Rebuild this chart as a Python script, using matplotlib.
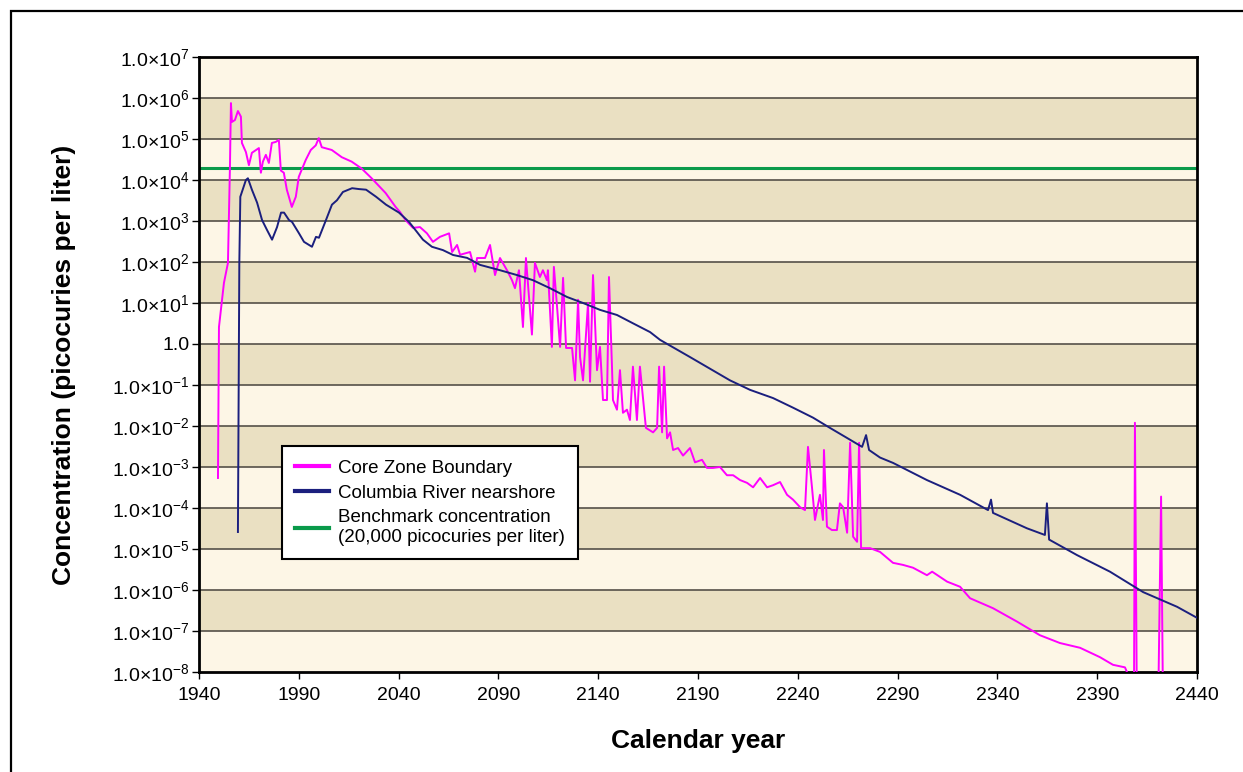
import matplotlib

matplotlib.use("Agg")
import matplotlib.pyplot as plt
import matplotlib.patches as mpatches

plt.rcParams["font.family"] = ["Liberation Sans", "DejaVu Sans"]
plt.rcParams["mathtext.fontset"] = "custom"
plt.rcParams["mathtext.rm"] = "Liberation Sans"
plt.rcParams["mathtext.it"] = "Liberation Sans:italic"
plt.rcParams["mathtext.bf"] = "Liberation Sans:bold"

# Core Zone Boundary (picocuries per liter)
core_years = [
    1949.5, 1950.0, 1952.5, 1954.5, 1955.5, 1956.0, 1956.5, 1958.0, 1959.5, 1961.0,
    1961.5, 1963.5, 1965.0, 1966.5, 1970.0, 1971.0, 1972.0, 1973.5, 1975.0, 1976.5,
    1978.5, 1980.0, 1981.0, 1982.5, 1984.0, 1985.0, 1986.5, 1988.5, 1990.0, 1993.5,
    1996.0, 1998.5, 2000.0, 2001.5, 2006.5, 2011.5, 2016.5, 2021.5, 2026.5, 2033.5,
    2038.5, 2040.7, 2043.5, 2047.2, 2050.7, 2054.2, 2057.2, 2060.7, 2065.3, 2066.8,
    2069.3, 2070.8, 2075.8, 2078.3, 2079.3, 2083.3, 2085.8, 2088.3, 2090.8, 2094.3,
    2096.8, 2098.3, 2100.3, 2102.3, 2103.8, 2106.8, 2108.3, 2110.8, 2112.3, 2114.3,
    2114.8, 2116.8, 2117.8, 2119.4, 2120.9, 2122.4, 2123.9, 2126.9, 2128.4, 2129.9,
    2130.9, 2132.4, 2134.9, 2135.9, 2137.4, 2139.4, 2140.9, 2142.4, 2144.4, 2145.4,
    2146.9, 2147.4, 2149.4, 2150.9, 2152.4, 2154.4, 2155.9, 2157.4, 2159.4, 2160.9,
    2163.9, 2167.5, 2169.5, 2170.5, 2172.0, 2173.0, 2174.5, 2176.0, 2177.5, 2180.0,
    2182.5, 2186.0, 2188.5, 2192.0, 2194.5, 2197.5, 2201.0, 2204.5, 2207.6, 2211.1,
    2214.6, 2217.6, 2221.1, 2224.6, 2227.6, 2231.1, 2234.6, 2237.6, 2241.1, 2243.6,
    2245.1, 2247.1, 2248.6, 2251.1, 2252.6, 2253.1, 2254.6, 2257.1, 2259.6, 2261.1,
    2262.7, 2264.7, 2266.2, 2267.7, 2269.7, 2270.7, 2271.7, 2276.2, 2281.2, 2287.7,
    2292.7, 2297.7, 2304.7, 2307.3, 2314.8, 2321.3, 2326.3, 2337.8, 2349.8, 2361.3,
    2371.3, 2381.4, 2391.4, 2397.9, 2403.9, 2404.9, 2406.9, 2408.4, 2408.9, 2409.9,
    2420.5, 2422.0, 2423.0, 2440.0,
]
core_values = [
    5.4e-4, 2.6, 31, 95, 2.1e4, 7.5e5, 2.6e5, 2.9e5, 4.8e5, 3.5e5,
    8e4, 4.8e4, 2.3e4, 4.6e4, 6e4, 1.5e4, 2.8e4, 4.1e4, 2.6e4, 8e4,
    8.5e4, 9.5e4, 1.7e4, 1.5e4, 5.8e3, 3.9e3, 2.2e3, 3.9e3, 1.2e4, 3.1e4,
    5.4e4, 7e4, 1.05e5, 6.3e4, 5.4e4, 3.6e4, 2.8e4, 1.9e4, 1.1e4, 4.8e3,
    2.2e3, 1.66e3, 1.05e3, 680, 710, 500, 310, 410, 500, 175,
    260, 150, 175, 58, 125, 125, 260, 48, 125, 63,
    36, 23, 63, 2.6, 125, 1.7, 95, 43, 63, 36,
    63, 0.85, 76, 7.9, 0.85, 41, 0.8, 0.8, 0.13, 12,
    0.48, 0.13, 10, 0.12, 48, 0.23, 0.85, 0.043, 0.043, 43,
    0.28, 0.043, 0.025, 0.23, 0.021, 0.025, 0.014, 0.28, 0.014, 0.28,
    0.009, 0.007, 0.009, 0.28, 0.007, 0.28, 0.005, 0.007, 0.0026, 0.0029,
    0.0019, 0.0029, 0.0013, 0.0015, 9.5e-4, 9.5e-4, 1e-3, 6.3e-4, 6.3e-4, 4.8e-4,
    4.1e-4, 3.2e-4, 5.4e-4, 3.2e-4, 3.6e-4, 4.3e-4, 2.1e-4, 1.6e-4, 1.05e-4, 8.9e-5,
    3.1e-3, 3.2e-4, 5.1e-5, 2.1e-4, 5.1e-5, 2.6e-3, 3.5e-5, 2.9e-5, 2.9e-5, 1.3e-4,
    1.05e-4, 2.5e-5, 3.9e-3, 2e-5, 1.5e-5, 3.9e-3, 1.05e-5, 1.05e-5, 8.5e-6, 4.6e-6,
    4.1e-6, 3.5e-6, 2.3e-6, 2.8e-6, 1.6e-6, 1.2e-6, 6.3e-7, 3.6e-7, 1.7e-7, 7.9e-8,
    5.1e-8, 3.9e-8, 2.3e-8, 1.5e-8, 1.3e-8, 1e-8, 1e-9, 1e-9, 1.2e-2, 1e-9,
    1e-9, 1.9e-4, 1e-9, 1e-9,
]

# Columbia River nearshore
river_years = [
    1959.5, 1960.2, 1960.7, 1963.5, 1964.5, 1966.5, 1969.1, 1971.6, 1974.1, 1976.6,
    1979.1, 1981.1, 1982.6, 1985.1, 1986.6, 1990.1, 1992.6, 1996.6, 1998.6, 2000.1,
    2003.6, 2006.6, 2009.1, 2012.1, 2016.7, 2020.2, 2023.7, 2028.7, 2033.7, 2040.2,
    2045.2, 2049.2, 2052.2, 2056.7, 2062.2, 2067.3, 2074.3, 2080.8, 2090.8, 2099.3,
    2107.3, 2115.8, 2124.4, 2132.4, 2140.9, 2149.4, 2157.4, 2166.0, 2171.0, 2186.0,
    2206.0, 2216.1, 2227.6, 2237.6, 2247.6, 2256.1, 2264.7, 2272.2, 2274.2, 2275.7,
    2281.2, 2287.7, 2304.7, 2321.3, 2335.3, 2336.8, 2337.8, 2354.8, 2363.8, 2364.8,
    2365.9, 2379.9, 2396.4, 2413.0, 2430.0, 2440.0,
]
river_values = [
    2.6e-5, 95, 3.9e3, 1e4, 1.1e4, 5.8e3, 2.8e3, 1.05e3, 600, 350,
    710, 1.6e3, 1.6e3, 1.05e3, 950, 500, 310, 235, 410, 390,
    1.05e3, 2.5e3, 3.2e3, 5.1e3, 6.3e3, 6e3, 5.8e3, 3.9e3, 2.5e3, 1.6e3,
    950, 540, 350, 235, 195, 148, 126, 85, 63, 48,
    36, 23, 14, 10, 6.8, 5.1, 3.2, 1.95, 1.26, 0.48,
    0.13, 0.076, 0.048, 0.028, 0.016, 0.009, 0.0051, 0.0031, 0.006, 0.0026,
    0.0017, 0.00126, 4.8e-4, 2.1e-4, 8.9e-5, 1.6e-4, 7.6e-5, 3.2e-5, 2.2e-5, 1.3e-4,
    1.7e-5, 7.1e-6, 2.8e-6, 8.9e-7, 3.9e-7, 2.1e-7,
]

benchmark = 20000
decades = list(range(-8, 8))
year_ticks = [1940, 1990, 2040, 2090, 2140, 2190, 2240, 2290, 2340, 2390, 2440]


def tick_label(exp):
    if exp == 0:
        return "1.0"
    return r"1.0$\times$10$^{%d}$" % exp


fig = plt.figure(figsize=(12.43, 7.72), dpi=100)
ax = fig.add_axes([0.1601, 0.1295, 0.8029, 0.7967])

# outer frame of the figure
fig.patches.append(
    mpatches.Rectangle(
        (11 / 1243, -0.1), 1.2, 1.1 - 11 / 772,
        transform=fig.transFigure, fill=False, edgecolor="black", linewidth=1.6,
    )
)

# alternating bands for each decade
for lo in decades[:-1]:
    color = "#FDF6E6" if (7 - lo) % 2 == 1 else "#EAE0C2"
    ax.axhspan(10.0**lo, 10.0**(lo + 1), color=color, zorder=0, linewidth=0)
for d in decades[1:-1]:
    ax.axhline(10.0**d, color="#555048", linewidth=1.2, zorder=1)

ax.plot(core_years, core_values, color="#FF00FF", linewidth=1.4, zorder=3,
        label="Core Zone Boundary")
ax.plot(river_years, river_values, color="#1B1F7E", linewidth=1.4, zorder=4,
        label="Columbia River nearshore")
ax.axhline(benchmark, color="#0A9A4A", linewidth=2.2, zorder=2,
           label="Benchmark concentration\n(20,000 picocuries per liter)")

ax.set_yscale("log")
ax.set_ylim(1e-8, 1e7)
ax.set_xlim(1940, 2440)
ax.set_yticks([10.0**d for d in decades])
ax.set_yticklabels([tick_label(d) for d in decades])
ax.minorticks_off()
ax.set_xticks(year_ticks)
ax.tick_params(axis="both", labelsize=14, length=5, width=1, direction="out",
               colors="black")
ax.tick_params(axis="y", pad=2)
ax.tick_params(axis="x", pad=6)

for side in ["left", "bottom", "top", "right"]:
    ax.spines[side].set_linewidth(2)
    ax.spines[side].set_color("black")

ax.set_xlabel("Calendar year", fontsize=19, fontweight="bold", labelpad=18)
ax.set_ylabel("Concentration (picocuries per liter)", fontsize=19,
              fontweight="bold", labelpad=26)

leg = ax.legend(loc="upper left", bbox_to_anchor=(0.083, 0.367), fontsize=13.5,
                frameon=True, fancybox=False, framealpha=1, edgecolor="black",
                handlelength=1.8, handletextpad=0.5, labelspacing=0.42,
                borderpad=0.7, borderaxespad=0)
leg.get_frame().set_linewidth(1.5)
for line in leg.get_lines():
    line.set_linewidth(3)

fig.savefig("out.png", dpi=100)
